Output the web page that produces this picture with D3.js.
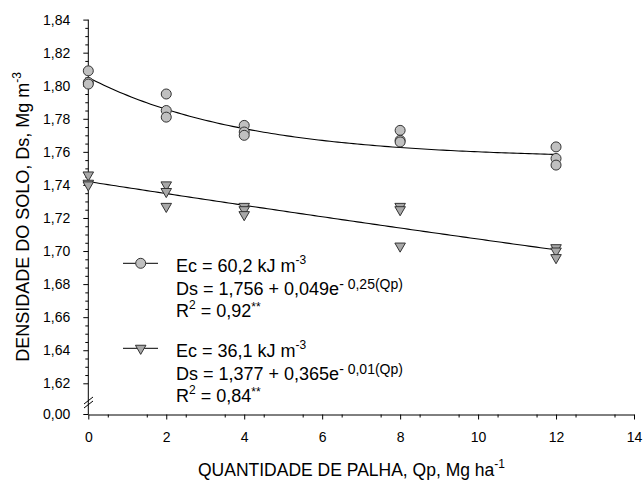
<!DOCTYPE html>
<html>
<head>
<meta charset="utf-8">
<script src="https://cdn.jsdelivr.net/npm/d3@7"></script>
<style>
  body { margin: 0; background: #fff; }
  svg { font-family: Arial, "Liberation Sans", sans-serif; }
</style>
</head>
<body>
<svg id="chart" width="644" height="480"></svg>
<script>
// observed points, Ec = 60,2 kJ m-3 (circles)
const qpCircle = [0, 0, 0, 2, 2, 2, 4, 4, 4, 8, 8, 8, 12, 12, 12];
const dsCircle = [1.809, 1.802, 1.801, 1.795, 1.785, 1.781, 1.776, 1.772, 1.770, 1.773, 1.767, 1.766, 1.763, 1.756, 1.752];
// observed points, Ec = 36,1 kJ m-3 (triangles)
const qpTri = [0, 0, 0, 2, 2, 2, 4, 4, 4, 8, 8, 8, 12, 12, 12];
const dsTri = [1.746, 1.741, 1.740, 1.740, 1.736, 1.727, 1.727, 1.725, 1.722, 1.727, 1.725, 1.703, 1.702, 1.700, 1.696];
// fitted model coefficients: a + b*e^(-c*Qp)
const fitCircle = [1.756, 0.049, 0.25];
const fitTri = [1.377, 0.365, 0.01];

const xTicks = [0, 2, 4, 6, 8, 10, 12, 14];
const yTicks = [1.62, 1.64, 1.66, 1.68, 1.70, 1.72, 1.74, 1.76, 1.78, 1.80, 1.82, 1.84];
const yTickLabels = ["1,62", "1,64", "1,66", "1,68", "1,70", "1,72", "1,74", "1,76", "1,78", "1,80", "1,82", "1,84"];

const svg = d3.select("#chart");

const x = d3.scaleLinear().domain([0, 14]).range([88.3, 634]);
const y = d3.scaleLinear().domain([1.62, 1.84]).range([383.3, 19.6]);
const yZero = 414.5;

// x axis
const xAxis = d3.axisBottom(x)
  .tickValues(xTicks)
  .tickSize(5)
  .tickSizeOuter(0)
  .tickFormat(d => d);
const gx = svg.append("g").attr("transform", `translate(0,${yZero})`).call(xAxis);
gx.selectAll("text").attr("font-size", "14px").attr("y", 27.5).attr("dy", 0).attr("fill", "#000");
gx.select(".domain").attr("stroke", "#000");

svg.append("g")
  .attr("transform", `translate(0,${yZero})`)
  .call(d3.axisBottom(x).tickValues(d3.range(0.5, 14, 1)).tickSize(3).tickFormat(""))
  .call(g => g.select(".domain").remove());

// y axis
const yAxis = d3.axisLeft(y)
  .tickValues(yTicks)
  .tickSize(5)
  .tickSizeOuter(0)
  .tickFormat((d, i) => yTickLabels[i]);
const gy = svg.append("g").attr("transform", "translate(88.3,0)").call(yAxis);
gy.selectAll("text").attr("font-size", "14px").attr("x", -18).attr("fill", "#000");
gy.select(".domain").remove();

const yMinor = d3.range(1.625, 1.84, 0.005).filter(v => Math.abs(Math.round(v * 50) - v * 50) > 0.01);
svg.append("g")
  .attr("transform", "translate(88.3,0)")
  .call(d3.axisLeft(y).tickValues(yMinor).tickSize(3).tickFormat(""))
  .call(g => g.select(".domain").remove());

// axis line incl. broken part down to 0,00
svg.append("line")
  .attr("x1", 88.3).attr("x2", 88.3)
  .attr("y1", y(1.84)).attr("y2", yZero)
  .attr("stroke", "#000");
svg.append("line")
  .attr("x1", 83.3).attr("x2", 88.3)
  .attr("y1", yZero).attr("y2", yZero)
  .attr("stroke", "#000");
svg.append("text")
  .attr("x", 70.3).attr("y", yZero)
  .attr("dy", "0.32em")
  .attr("text-anchor", "end")
  .attr("font-size", "14px")
  .text("0,00");

// break marks
[0, 4].forEach(off => {
  svg.append("line")
    .attr("x1", 84).attr("y1", 404 + off)
    .attr("x2", 93).attr("y2", 397 + off)
    .attr("stroke", "#000");
});

// fitted curves
const qpGrid = d3.range(0, 12.001, 0.1);
const line = d3.line().x(d => x(d[0])).y(d => y(d[1]));
[fitCircle, fitTri].forEach(f => {
  svg.append("path")
    .datum(qpGrid.map(q => [q, f[0] + f[1] * Math.exp(-f[2] * q)]))
    .attr("d", line)
    .attr("fill", "none")
    .attr("stroke", "#000")
    .attr("stroke-width", 1.1);
});

// markers
const tri = d3.symbol().type(d3.symbolTriangle).size(48);

svg.append("g").selectAll("circle")
  .data(qpCircle.map((q, i) => [q, dsCircle[i]]))
  .join("circle")
  .attr("cx", d => x(d[0]))
  .attr("cy", d => y(d[1]))
  .attr("r", 5)
  .attr("fill", "#c0c0c0")
  .attr("stroke", "#333")
  .attr("stroke-width", 1);

svg.append("g").selectAll("path")
  .data(qpTri.map((q, i) => [q, dsTri[i]]))
  .join("path")
  .attr("d", tri)
  .attr("transform", d => `translate(${x(d[0])},${y(d[1])}) rotate(180)`)
  .attr("fill", "#a8a8a8")
  .attr("stroke", "#333")
  .attr("stroke-width", 1);

// legend
function legendBlock(top, marker, ec, eq1, eq2, r2) {
  const g = svg.append("g");
  g.append("line").attr("x1", 123).attr("x2", 158).attr("y1", top).attr("y2", top).attr("stroke", "#000");
  if (marker === "circle") {
    g.append("circle").attr("cx", 140.7).attr("cy", top).attr("r", 5)
      .attr("fill", "#c0c0c0").attr("stroke", "#333");
  } else {
    g.append("path").attr("d", tri).attr("transform", `translate(140.7,${top}) rotate(180)`)
      .attr("fill", "#a8a8a8").attr("stroke", "#333");
  }
  const t1 = g.append("text").attr("x", 176).attr("y", top + 8.4).attr("font-size", "18px");
  t1.append("tspan").text(ec);
  t1.append("tspan").attr("font-size", "12px").attr("dy", -8).text("-3");

  const t2 = g.append("text").attr("x", 176).attr("y", top + 31.7).attr("font-size", "18px");
  t2.append("tspan").text(eq1);
  t2.append("tspan").attr("font-size", "14px").attr("dy", -6).text(eq2);

  const t3 = g.append("text").attr("x", 176).attr("y", top + 54).attr("font-size", "18px");
  t3.append("tspan").text("R");
  t3.append("tspan").attr("font-size", "12px").attr("dy", -8).text("2");
  t3.append("tspan").attr("dy", 8).text(" = " + r2);
  t3.append("tspan").attr("font-size", "12px").attr("dy", -6).text("**");
}
legendBlock(263.3, "circle", "Ec = 60,2 kJ m", "Ds = 1,756 + 0,049e", "- 0,25(Qp)", "0,92");
legendBlock(348.3, "tri", "Ec = 36,1 kJ m", "Ds = 1,377 + 0,365e", "- 0,01(Qp)", "0,84");

// axis titles
const xt = svg.append("text").attr("x", 198).attr("y", 476).attr("font-size", "17.5px");
xt.append("tspan").text("QUANTIDADE DE PALHA, Qp, Mg ha");
xt.append("tspan").attr("font-size", "12px").attr("dy", -8).text("-1");

const yt = svg.append("text").attr("transform", "translate(29,217) rotate(-90)").attr("text-anchor", "middle").attr("font-size", "18px");
yt.append("tspan").text("DENSIDADE DO SOLO, Ds, Mg m");
yt.append("tspan").attr("font-size", "12px").attr("dy", -8).text("-3");
</script>
</body>
</html>
